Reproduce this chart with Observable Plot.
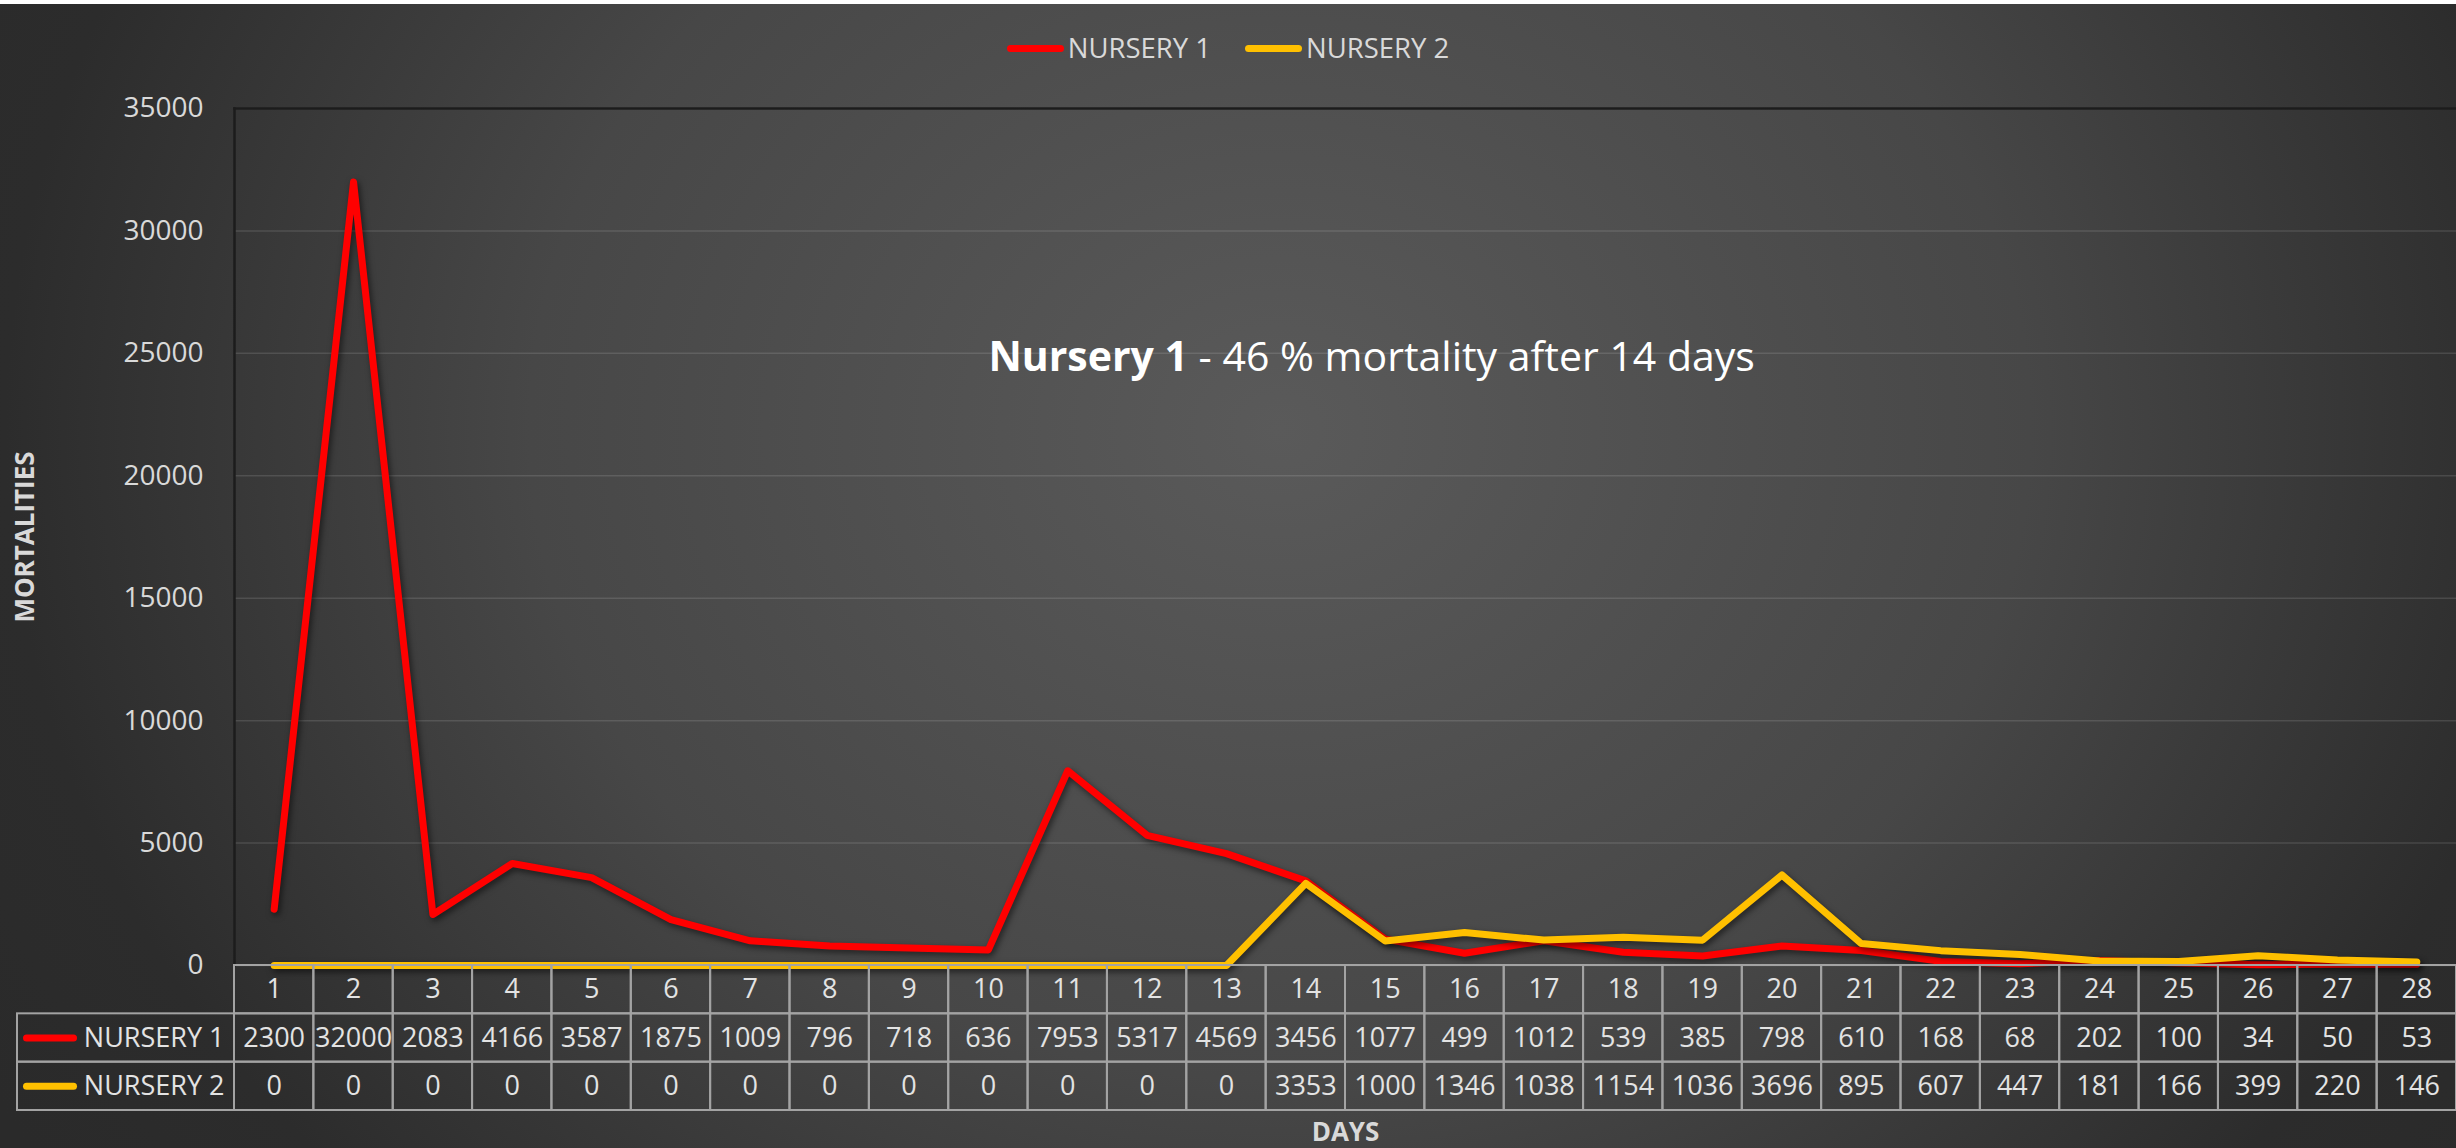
<!DOCTYPE html>
<html><head><meta charset="utf-8">
<script src="https://cdn.jsdelivr.net/npm/d3@7"></script>
<script src="https://cdn.jsdelivr.net/npm/@observablehq/plot@0.6"></script>
<style>
html,body{margin:0;padding:0;background:#2b2b2b;}
#chart{position:relative;width:2456px;height:1148px;overflow:hidden;
 background: radial-gradient(ellipse 1500px 1300px at 1280px 430px, #5a5a5a 0%, #474747 50%, #2c2c2c 85%, #2a2a2a 100%);
 font-family:"Open Sans",sans-serif;}
#topline{position:absolute;left:0;top:0;width:100%;height:4px;background:#fff;}
#legend{position:absolute;left:0;top:26px;width:100%;display:flex;justify-content:center;align-items:center;gap:34px;color:#d9d9d9;font-size:27.5px;line-height:44px;}
.item{display:flex;align-items:center;gap:4px}
.sw{width:57px;height:7px;border-radius:4px}
#main,#table{position:absolute;left:0}
#main{top:60px}
#table{top:955px}
g[aria-label="line"]{filter:drop-shadow(2px 3px 3px rgba(0,0,0,0.55));}
svg text{white-space:pre}
</style></head><body>
<div id="chart"><div id="topline"></div><div id="legend"></div><div id="main"></div><div id="table"></div></div>
<script>
// ---- data ----
const days = [1,2,3,4,5,6,7,8,9,10,11,12,13,14,15,16,17,18,19,20,21,22,23,24,25,26,27,28];
const seriesNames = ["NURSERY 1", "NURSERY 2"];
const seriesColors = ["#ff0000", "#ffc000"];
const nursery1 = [2300,32000,2083,4166,3587,1875,1009,796,718,636,7953,5317,4569,3456,1077,499,1012,539,385,798,610,168,68,202,100,34,50,53];
const nursery2 = [0,0,0,0,0,0,0,0,0,0,0,0,0,3353,1000,1346,1038,1154,1036,3696,895,607,447,181,166,399,220,146];
const yTicks = [0,5000,10000,15000,20000,25000,30000,35000];
const yTitle = "MORTALITIES";
const xTitle = "DAYS";
const annotationBold = "Nursery 1";
const annotationRest = " - 46 % mortality after 14 days";
const annotationDay = 10;
const annotationValue = 24800;

// ---- layout ----
const W = 2456, ML = 234, MR = 0;
const colW = (W - ML - MR) / days.length;
const toX = px => days[0] - 0.5 + (px - ML) / colW;
const font = "'Open Sans', sans-serif";
const textColor = "#d9d9d9";

// legend
const legend = document.getElementById("legend");
seriesNames.forEach((n, i) => {
  const it = document.createElement("div"); it.className = "item";
  const sw = document.createElement("div"); sw.className = "sw"; sw.style.background = seriesColors[i];
  const tx = document.createElement("span"); tx.textContent = n;
  it.appendChild(sw); it.appendChild(tx); legend.appendChild(it);
});

const s1 = days.map((d, i) => ({day: d, value: nursery1[i]}));
const s2 = days.map((d, i) => ({day: d, value: nursery2[i]}));
const annotationText = annotationBold + annotationRest;

const main = Plot.plot({
  width: W, height: 930,
  marginTop: 48, marginBottom: 25, marginLeft: ML, marginRight: MR,
  style: {background: "transparent", color: textColor, fontSize: "28px", fontFamily: font},
  x: {type: "point", domain: days, padding: 0.5, round: false, axis: null},
  y: {domain: [yTicks[0], yTicks[yTicks.length - 1]], ticks: yTicks, tickSize: 0, tickPadding: 31, tickFormat: d => String(d), label: null},
  marks: [
    Plot.ruleY(yTicks, {stroke: "#ffffff", strokeOpacity: 0.12, strokeWidth: 1.5}),
    Plot.frame({anchor: "left", stroke: "#1c1c1c", strokeWidth: 2.5}),
    Plot.frame({anchor: "top", stroke: "#1c1c1c", strokeWidth: 2.5}),
    Plot.line(s1, {x: "day", y: "value", stroke: seriesColors[0], strokeWidth: 7, strokeLinejoin: "round", strokeLinecap: "round"}),
    Plot.line(s2, {x: "day", y: "value", stroke: seriesColors[1], strokeWidth: 7, strokeLinejoin: "round", strokeLinecap: "round"}),
    Plot.text([annotationText], {x: () => annotationDay, y: () => annotationValue, text: d => d, textAnchor: "start", fontSize: 41, fill: "#ffffff"}),
    Plot.text([yTitle], {frameAnchor: "left", text: d => d, rotate: -90, textAnchor: "middle", lineAnchor: "middle", dx: -(ML - 25), fontSize: 26, fontWeight: "bold", fill: textColor})
  ]
});
d3.select(main).selectAll("text").filter(function(){ return this.textContent === annotationText; }).each(function(){
  const t = d3.select(this); t.text(null);
  t.append("tspan").attr("font-weight", "bold").text(annotationBold);
  t.append("tspan").text(annotationRest);
});
document.getElementById("main").appendChild(main);

// table
const cells = [];
days.forEach((d, i) => {
  cells.push({day: d, row: 0, label: String(d)});
  cells.push({day: d, row: 1, label: String(nursery1[i])});
  cells.push({day: d, row: 2, label: String(nursery2[i])});
});
const rowLabels = seriesNames.map((n, i) => ({row: i + 1, name: n, color: seriesColors[i]}));
const x0 = days[0] - 0.5, x1 = days[days.length - 1] + 0.5;
const gridColor = "#a3a3a3";
const table = Plot.plot({
  width: W, height: 193,
  marginTop: 10, marginBottom: 38, marginLeft: ML, marginRight: MR,
  style: {background: "transparent", color: textColor, fontSize: "27px", fontFamily: font},
  x: {type: "linear", domain: [x0, x1], axis: null},
  y: {type: "linear", domain: [0, 3], range: [10, 155], axis: null},
  marks: [
    Plot.rect(cells, {x1: d => d.day - 0.5, x2: d => d.day + 0.5, y1: "row", y2: d => d.row + 1, fill: "none", stroke: gridColor, strokeWidth: 2}),
    Plot.rect(rowLabels, {x1: toX(17), x2: x0, y1: "row", y2: d => d.row + 1, fill: "none", stroke: gridColor, strokeWidth: 2}),
    Plot.text(cells, {x: "day", y: d => d.row + 0.5, text: "label", fontSize: 27, fill: "#e3e3e3"}),
    Plot.text(rowLabels, {x: x0, dx: -10, y: d => d.row + 0.5, text: "name", textAnchor: "end", fontSize: 27, fill: "#e3e3e3"}),
    Plot.ruleY([rowLabels[0]], {x1: toX(26.5), x2: toX(73.5), y: d => d.row + 0.5, stroke: seriesColors[0], strokeWidth: 7, strokeLinecap: "round"}),
    Plot.ruleY([rowLabels[1]], {x1: toX(26.5), x2: toX(73.5), y: d => d.row + 0.5, stroke: seriesColors[1], strokeWidth: 7, strokeLinecap: "round"}),
    Plot.text([xTitle], {x: () => (x0 + x1) / 2, y: () => 3.46, text: d => d, fontSize: 26, fontWeight: "bold", fill: textColor})
  ]
});
document.getElementById("table").appendChild(table);
</script>
</body></html>
